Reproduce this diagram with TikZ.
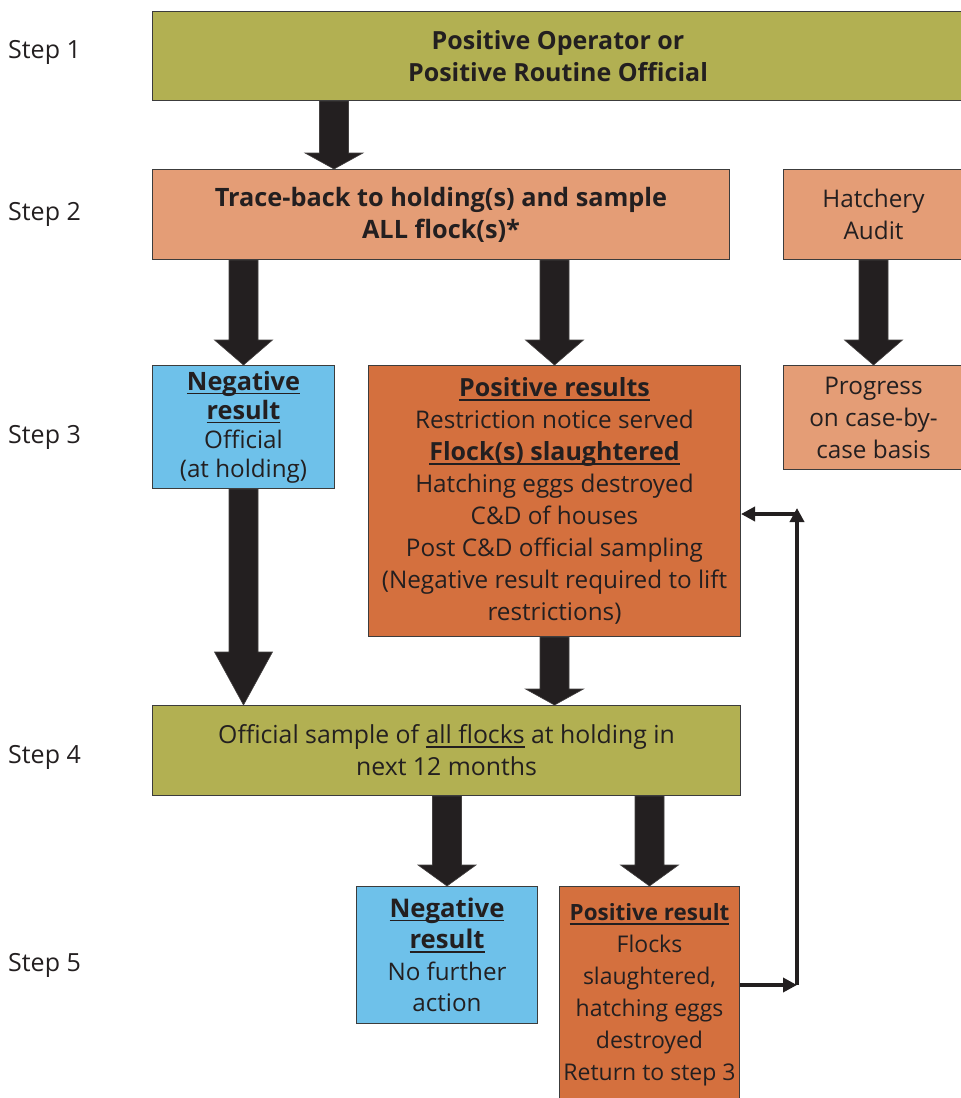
\documentclass[tikz,border=0pt]{standalone}
\usepackage{fontspec}
\setmainfont{Open Sans}
\usetikzlibrary{arrows.meta,calc}
\definecolor{cOlive}{HTML}{B2B052}
\definecolor{cSalmon}{HTML}{E49D76}
\definecolor{cRust}{HTML}{D4703E}
\definecolor{cSky}{HTML}{6EC1EA}
\definecolor{cInk}{HTML}{231F20}
\definecolor{cEdge}{HTML}{3C3C3C}
\newcommand{\ulx}[1]{\setbox0\hbox{#1}\rlap{\rule[-4pt]{\wd0}{1.5pt}}\box0}
\newcommand{\fatarrow}[3][22pt]{\path[fatarrowstyle] let \p1=#2, \p2=#3 in
  (\x1-14.5pt,\y1) -- (\x1-14.5pt,\y2+#1) -- (\x1-29pt,\y2+#1) -- (\x1,\y2) --
  (\x1+29pt,\y2+#1) -- (\x1+14.5pt,\y2+#1) -- (\x1+14.5pt,\y1) -- cycle;}
\begin{document}
\begin{tikzpicture}[x=1pt,y=-1pt,
  box/.style={draw=cEdge, line width=1pt, inner sep=0pt, align=center, anchor=north west,
    text=cInk, font=\fontsize{24.3}{32}\selectfont},
  fatarrowstyle/.style={fill=cInk, draw=cInk!85!white, line width=0.6pt},
  loopline/.style={draw=cInk, line width=4pt, -{Triangle[width=14pt,length=14pt]}},
  steplabel/.style={anchor=west, inner sep=0pt, text=cInk, font=\fontsize{25}{28}\selectfont}]
\useasboundingbox (0,0) rectangle (961,1098);
\clip (0,0) rectangle (961,1098);

% step labels
\node[steplabel] (s1) at (8,52) {Step 1};
\node[steplabel] (s2) at (8,214) {Step 2};
\node[steplabel] (s3) at (8,437) {Step 3};
\node[steplabel] (s4) at (8,757) {Step 4};
\node[steplabel] (s5) at (8,965) {Step 5};

% boxes
\node[box, fill=cOlive, minimum width=811pt, minimum height=89pt, font=\fontsize{25}{32}\selectfont\bfseries] (b1) at (152,11)
  {Positive Operator or\\Positive Routine Official};
\node[box, fill=cSalmon, minimum width=577pt, minimum height=90pt, font=\fontsize{25.3}{32}\selectfont\bfseries] (b2) at (152,169)
  {Trace-back to holding(s) and sample\\ALL flock(s)*};
\node[box, fill=cSalmon, minimum width=180pt, minimum height=90pt] (h) at (783,169)
  {Hatchery\\Audit};
\node[box, fill=cSky, minimum width=182pt, minimum height=123pt, font=\fontsize{24.2}{29}\selectfont] (n3) at (152,365)
  {{\fontsize{25.3}{29}\selectfont\bfseries\ulx{Negative}}\\{\fontsize{25.3}{29}\selectfont\bfseries\ulx{result}}\\Official\\(at holding)};
\node[box, fill=cRust, minimum width=372pt, minimum height=271pt] (p3) at (368,365)
  {{\fontsize{25}{32}\selectfont\bfseries\ulx{Positive results}}\\Restriction notice served\\{\fontsize{25}{32}\selectfont\bfseries\ulx{Flock(s) slaughtered}}\\Hatching eggs destroyed\\C\&D of houses\\Post C\&D official sampling\\(Negative result required to lift\\restrictions)};
\node[box, fill=cSalmon, minimum width=180pt, minimum height=104pt] (pr) at (783,365)
  {Progress\\on case-by-\\case basis};
\node[box, fill=cOlive, minimum width=588pt, minimum height=90pt, font=\fontsize{24.8}{32}\selectfont] (b4) at (152,705)
  {Official sample of \ulx{all flocks}\ at holding in\\next 12 months};
\node[box, fill=cSky, minimum width=181pt, minimum height=137pt, font=\fontsize{24.2}{31.5}\selectfont] (n5) at (356,886)
  {{\fontsize{25.7}{31.5}\selectfont\bfseries\ulx{Negative}}\\{\fontsize{25.7}{31.5}\selectfont\bfseries\ulx{result}}\\No further\\action};
\node[box, fill=cRust, minimum width=180pt, minimum height=217pt, font=\fontsize{23}{32}\selectfont] (p5) at (559,886)
  {{\fontsize{22.4}{32}\selectfont\bfseries\ulx{Positive result}}\\Flocks\\slaughtered,\\hatching eggs\\destroyed\\Return to step 3};

% fat arrows
\fatarrow[16pt]{([xshift=182pt]b1.south west)}{([xshift=182pt]b2.north west)}
\fatarrow[25pt]{(b2.south -| n3.north)}{(n3.north)}
\fatarrow[25pt]{(b2.south -| p3.north)}{(p3.north)}
\fatarrow[25pt]{(h.south)}{(pr.north)}
\fatarrow[53pt]{(n3.south)}{(n3.south |- b4.north)}
\fatarrow[16pt]{(p3.south)}{(p3.south |- b4.north)}
\fatarrow[21pt]{(b4.south -| n5.north)}{(n5.north)}
\fatarrow[21pt]{(b4.south -| p5.north)}{(p5.north)}

% feedback loop
\coordinate (lowturn) at (797,985);
\coordinate (highturn) at (797,514);
\draw[loopline] (p5.east |- lowturn) -- (lowturn);
\draw[loopline] (lowturn) -- ([yshift=6pt]highturn);
\draw[loopline] ([xshift=2pt]highturn) -- (p3.east |- highturn);
\end{tikzpicture}
\end{document}
